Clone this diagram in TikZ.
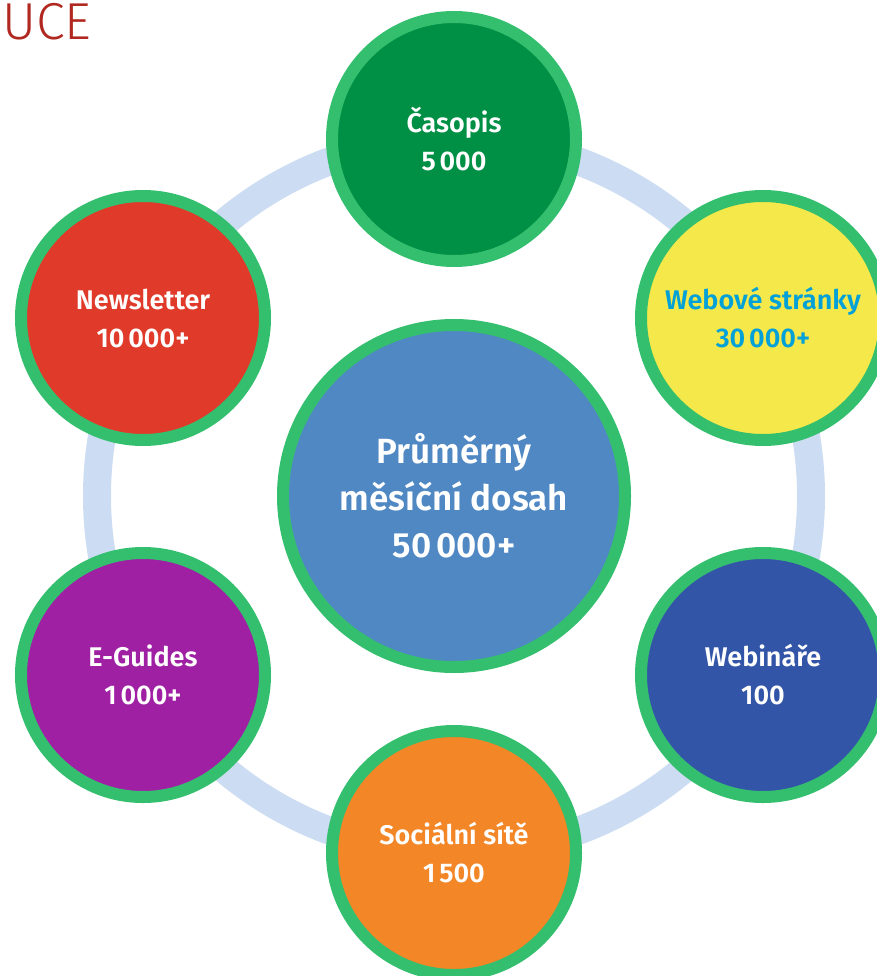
\documentclass[tikz,border=0pt]{standalone}
\usepackage{fontspec}
\setmainfont{Fira Sans}
\newfontfamily\labelfont{Fira Sans SemiBold}
\newfontfamily\headfont{Fira Sans Light}
\usepackage{tikz}

\definecolor{ringblue}{HTML}{CCDDF3}
\definecolor{rimgreen}{HTML}{33BF6E}
\definecolor{casgreen}{HTML}{009045}
\definecolor{webyellow}{HTML}{F4E84A}
\definecolor{webcyan}{HTML}{00A0D8}
\definecolor{webinblue}{HTML}{3355A8}
\definecolor{socorange}{HTML}{F38626}
\definecolor{guidepurple}{HTML}{A020A4}
\definecolor{newsred}{HTML}{E03A2A}
\definecolor{midblue}{HTML}{5088C4}
\definecolor{ucered}{HTML}{B0281F}

\newcommand{\thsp}{\hspace{0.14em}}

\tikzset{
  sat/.style = {circle, draw = rimgreen, line width = 12pt, inner sep = 0pt,
    minimum size = 244pt, text = white, align = center,
    font = \labelfont\fontsize{27}{38}\selectfont},
  hub/.style = {sat, minimum size = 342pt, fill = midblue,
    font = \labelfont\fontsize{35}{47}\selectfont}
}

\begin{document}
\begin{tikzpicture}[x = 1pt, y = -1pt]
\useasboundingbox (0,0) rectangle (876,976);
\node[anchor = base west, text = ucered, inner sep = 0pt,
  font = \headfont\fontsize{52}{52}\selectfont] (uce) at (2,40) {UCE};
\coordinate (m) at (454,496);
\draw [ringblue, line width = 28pt] (m) circle (357);
\draw (454,139) node[sat, fill = casgreen](a1){Časopis\\5\thsp000}
    (763,318) node[sat, fill = webyellow, text = webcyan](a2){Webové stránky\\30\thsp000+}
    (763,675) node[sat, fill = webinblue](a3){Webináře\\100}
    (454,853) node[sat, fill = socorange](a4){Sociální sítě\\1\thsp500}
    (143,675) node[sat, fill = guidepurple](a5){E-Guides\\1\thsp000+}
    (143,318) node[sat, fill = newsred](a6){Newsletter\\10\thsp000+}
    (m) node[hub](a0){Průměrný\\měsíční dosah\\50\thsp000+};
\end{tikzpicture}
\end{document}
